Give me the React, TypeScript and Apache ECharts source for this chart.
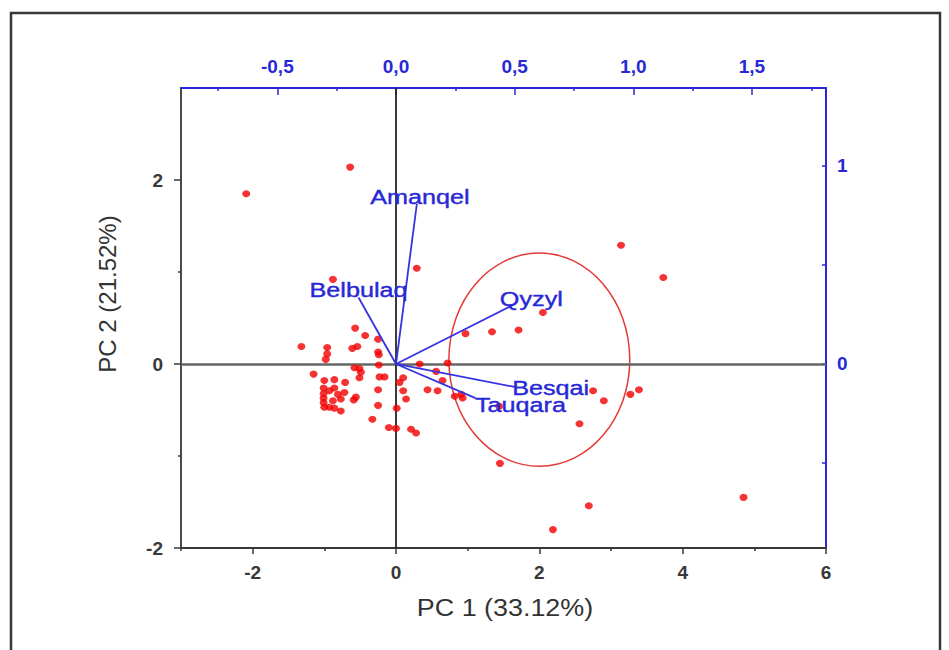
import React, { useEffect, useRef } from "react";
import * as echarts from "echarts";

// ---- data: PCA scores (PC1, PC2) ----
const scoreX = [
  -2.09, -0.64, 0.29, -0.88, 3.14, 3.73, 2.05, 0.97, 1.34, 1.71,
  -0.57, -0.43, -0.25, -1.32, -0.96, -0.96, -0.98, -0.61, -0.54, -0.25,
  -0.24, -0.24, -0.58, -0.51, -0.49, -0.51, -1.15, -0.23, -0.16, -1.0,
  -0.86, -0.71, 0.1, 0.05, -0.25, 0.1, 0.14,
  -1.01, -1.01, -1.01, -1.01, -1.0, -0.93, -0.86, -0.81, -0.72, -0.77,
  -0.88, -0.86, -0.77, -0.93, -0.56, -0.59,
  -0.25, 0.01, -0.33, -0.1, 0.0, 0.21, 0.28,
  0.33, 0.72, 0.56, 0.65, 0.44, 0.58, 0.82, 0.91, 0.93, 1.44,
  2.75, 2.9, 3.27, 3.39, 2.56, 1.45, 4.85, 2.69, 2.19
];
const scoreY = [
  1.85, 2.14, 1.04, 0.92, 1.29, 0.94, 0.56, 0.33, 0.35, 0.37,
  0.39, 0.31, 0.27, 0.19, 0.18, 0.11, 0.05, 0.17, 0.19, 0.13,
  0.1, -0.01, -0.04, -0.05, -0.09, -0.15, -0.11, -0.14, -0.14, -0.18,
  -0.17, -0.2, -0.15, -0.2, -0.28, -0.29, -0.38,
  -0.26, -0.32, -0.37, -0.42, -0.47, -0.29, -0.26, -0.33, -0.31, -0.38,
  -0.4, -0.48, -0.51, -0.47, -0.36, -0.39,
  -0.45, -0.48, -0.6, -0.69, -0.7, -0.71, -0.75,
  0.0, 0.01, -0.08, -0.18, -0.28, -0.29, -0.35, -0.33, -0.37, -0.46,
  -0.29, -0.4, -0.33, -0.28, -0.65, -1.08, -1.45, -1.54, -1.8
];

// ---- data: loadings (top / right axes) ----
const loadingNames = ["Amanqel", "Belbulaq", "Qyzyl", "Besqai", "Tauqara"];
const loadingX = [0.088, -0.158, 0.486, 0.5, 0.335];
const loadingY = [0.807, 0.335, 0.293, -0.116, -0.172];

// ---- data: confidence ellipse (centre and radii, PC units) ----
const ellipseCenter = [2.0, 0.047];
const ellipseRadii = [1.262, 1.159];

// ---- axes ----
const pc1Range = [-3, 6];
const pc2Range = [-2, 3];
const loadXRange = [-0.906, 1.812];
const loadYRange = [-0.927, 1.39];
const pc1Ticks = [-2, 0, 2, 4, 6];
const pc1Minor = [-3, -1, 1, 3, 5];
const pc2Ticks = [-2, 0, 2];
const pc2Minor = [-1, 1];
const loadXTicks = [-0.5, 0, 0.5, 1, 1.5];
const loadXMinor = [-0.75, -0.25, 0.25, 0.75, 1.25, 1.75];
const loadYTicks = [0, 1];
const loadYMinor = [-0.5, 0.5];

// label offsets (px) relative to vector tips – style only
const labelOffsets = [
  [3, -7],
  [0, -8],
  [20, -7],
  [36, 1],
  [45, 7],
];

const BLUE = "#2828d6";
const DARK = "#383838";
const FONT = "'Liberation Sans', Arial, sans-serif";

export default function App() {
  const ref = useRef<HTMLDivElement>(null);

  useEffect(() => {
    if (!ref.current) return;
    const chart = echarts.init(ref.current, null, { renderer: "svg" });

    const scatterData = scoreX.map((x, i) => [x, scoreY[i]]);
    const loadingData = loadingX.map((x, i) => [x, loadingY[i]]);

    const blackLabel = {
      fontFamily: FONT,
      fontWeight: "bold" as const,
      fontSize: 19,
      color: DARK,
    };
    const blueLabel = {
      fontFamily: FONT,
      fontWeight: "bold" as const,
      fontSize: 19,
      color: BLUE,
    };

    const option: any = {
      animation: false,
      backgroundColor: "#ffffff",
      grid: { left: 181, top: 88, right: 123, bottom: 102, containLabel: false },
      xAxis: [
        {
          type: "value",
          position: "bottom",
          min: pc1Range[0],
          max: pc1Range[1],
          axisLine: { show: true, onZero: false, lineStyle: { color: DARK, width: 2 } },
          axisTick: { show: true, inside: false, length: 6, customValues: pc1Ticks, lineStyle: { color: DARK, width: 1.5 } },
          axisLabel: { ...blackLabel, margin: 15, customValues: pc1Ticks, formatter: (v: number) => String(v) },
          splitLine: { show: false },
        },
        {
          type: "value",
          position: "bottom",
          min: pc1Range[0],
          max: pc1Range[1],
          axisLine: { show: false, onZero: false },
          axisTick: { show: true, inside: false, length: 3, customValues: pc1Minor, lineStyle: { color: DARK, width: 1.5 } },
          axisLabel: { show: false },
          splitLine: { show: false },
        },
        {
          type: "value",
          position: "top",
          min: loadXRange[0],
          max: loadXRange[1],
          axisLine: { show: true, onZero: false, lineStyle: { color: BLUE, width: 2 } },
          axisTick: { show: true, inside: true, length: 7, customValues: loadXTicks, lineStyle: { color: BLUE, width: 1.5 } },
          axisLabel: {
            ...blueLabel,
            margin: 12,
            customValues: loadXTicks,
            formatter: (v: number) => v.toFixed(1).replace(".", ","),
          },
          splitLine: { show: false },
        },
        {
          type: "value",
          position: "top",
          min: loadXRange[0],
          max: loadXRange[1],
          axisLine: { show: false, onZero: false },
          axisTick: { show: true, inside: true, length: 3, customValues: loadXMinor, lineStyle: { color: BLUE, width: 1.5 } },
          axisLabel: { show: false },
          splitLine: { show: false },
        },
      ],
      yAxis: [
        {
          type: "value",
          position: "left",
          min: pc2Range[0],
          max: pc2Range[1],
          axisLine: { show: true, onZero: false, lineStyle: { color: "#4a4a4a", width: 2 } },
          axisTick: { show: true, inside: false, length: 7, customValues: pc2Ticks, lineStyle: { color: DARK, width: 1.5 } },
          axisLabel: { ...blackLabel, margin: 18, customValues: pc2Ticks, formatter: (v: number) => String(v) },
          splitLine: { show: false },
        },
        {
          type: "value",
          position: "left",
          min: pc2Range[0],
          max: pc2Range[1],
          axisLine: { show: false, onZero: false },
          axisTick: { show: true, inside: false, length: 3, customValues: pc2Minor, lineStyle: { color: DARK, width: 1.5 } },
          axisLabel: { show: false },
          splitLine: { show: false },
        },
        {
          type: "value",
          position: "right",
          min: loadYRange[0],
          max: loadYRange[1],
          axisLine: { show: true, onZero: false, lineStyle: { color: BLUE, width: 2 } },
          axisTick: { show: true, inside: true, length: 4, customValues: loadYTicks, lineStyle: { color: BLUE, width: 1.5 } },
          axisLabel: { ...blueLabel, margin: 11, customValues: loadYTicks, formatter: (v: number) => String(v) },
          splitLine: { show: false },
        },
        {
          type: "value",
          position: "right",
          min: loadYRange[0],
          max: loadYRange[1],
          axisLine: { show: false, onZero: false },
          axisTick: { show: true, inside: true, length: 4, customValues: loadYMinor, lineStyle: { color: BLUE, width: 1.5 } },
          axisLabel: { show: false },
          splitLine: { show: false },
        },
      ],
      series: [
        {
          type: "scatter",
          xAxisIndex: 0,
          yAxisIndex: 0,
          data: scatterData,
          symbol: "circle",
          symbolSize: [8, 7],
          itemStyle: { color: "#f40000" },
          z: 5,
          markLine: {
            silent: true,
            symbol: "none",
            label: { show: false },
            data: [
              { yAxis: 0, lineStyle: { color: "#666666", width: 2.5, type: "solid" } },
              { xAxis: 0, lineStyle: { color: "#262626", width: 1.8, type: "solid" } },
            ],
          },
        },
        {
          type: "custom",
          xAxisIndex: 0,
          yAxisIndex: 0,
          data: [[ellipseCenter[0], ellipseCenter[1], ellipseRadii[0], ellipseRadii[1]]],
          z: 4,
          renderItem: (params: any, api: any) => {
            const c = api.coord([api.value(0), api.value(1)]);
            const s = api.size([api.value(2), api.value(3)]);
            return {
              type: "ellipse",
              shape: { cx: c[0], cy: c[1], rx: s[0], ry: s[1] },
              style: { stroke: "#e43a3a", fill: "none", lineWidth: 1.5 },
            };
          },
        },
        {
          type: "custom",
          xAxisIndex: 2,
          yAxisIndex: 2,
          data: loadingData,
          z: 6,
          renderItem: (params: any, api: any) => {
            const o = api.coord([0, 0]);
            const p = api.coord([api.value(0), api.value(1)]);
            const off = labelOffsets[params.dataIndex];
            return {
              type: "group",
              children: [
                {
                  type: "line",
                  shape: { x1: o[0], y1: o[1], x2: p[0], y2: p[1] },
                  style: { stroke: "#3434e0", lineWidth: 1.8 },
                },
                {
                  type: "text",
                  x: p[0] + off[0],
                  y: p[1] + off[1],
                  scaleX: 1.2,
                  style: {
                    text: loadingNames[params.dataIndex],
                    fill: BLUE,
                    stroke: BLUE,
                    lineWidth: 0.4,
                    font: `21px ${FONT}`,
                    align: "center",
                    verticalAlign: "middle",
                  },
                },
              ],
            };
          },
        },
      ],
      graphic: [
        {
          type: "rect",
          shape: { x: 11, y: 13, width: 929, height: 700 },
          style: { stroke: "#383838", lineWidth: 2.5, fill: "none" },
          silent: true,
        },
        {
          type: "text",
          x: 505,
          y: 608,
          scaleX: 1.17,
          style: {
            text: "PC 1 (33.12%)",
            fill: "#333333",
            font: `23px ${FONT}`,
            align: "center",
            verticalAlign: "middle",
          },
        },
        {
          type: "text",
          x: 107,
          y: 294,
          rotation: Math.PI / 2,
          style: {
            text: "PC 2 (21.52%)",
            fill: "#333333",
            font: `24px ${FONT}`,
            align: "center",
            verticalAlign: "middle",
          },
        },
      ],
    };

    chart.setOption(option);
    return () => chart.dispose();
  }, []);

  return (
    <div
      ref={ref}
      style={{ position: "fixed", left: 0, top: 0, width: 949, height: 650, background: "#fff" }}
    />
  );
}
